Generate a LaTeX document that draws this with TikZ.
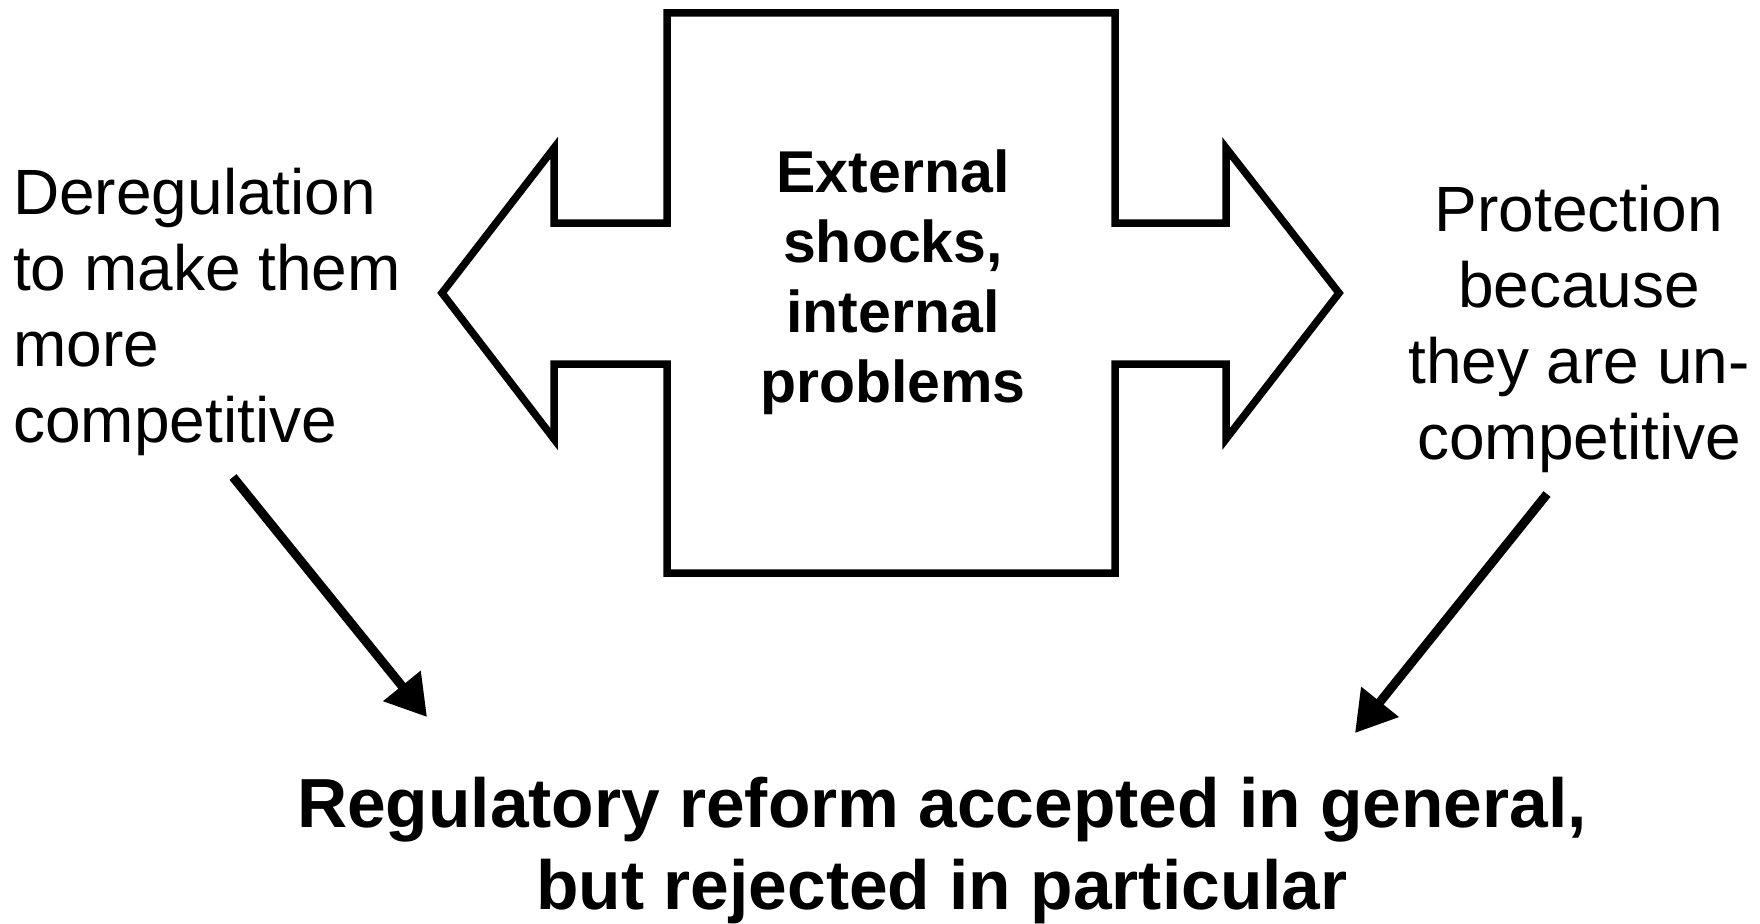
\documentclass[tikz,border=0pt]{standalone}
\usepackage{fontspec}
\setmainfont{Liberation Sans}
\usetikzlibrary{arrows.meta}
\tikzset{
  outline/.style={draw=black, line width=7.5pt, line join=miter, miter limit=10},
  sidetext/.style={inner sep=0pt, font=\fontsize{64}{76}\selectfont},
  midtext/.style={inner sep=0pt, align=center, font=\fontsize{59}{70}\selectfont\bfseries},
  bottomtext/.style={inner sep=0pt, align=center, font=\fontsize{69.5}{82}\selectfont\bfseries},
  flowarrow/.style={line width=9pt, -{Triangle[length=40pt,width=46pt]}}
}
\begin{document}
\begin{tikzpicture}[x=1pt,y=-1pt]
\useasboundingbox[fill=white] (0,0) rectangle (1760,923);
% double arrow shape
\draw[outline] (667,13) -- (1115,13) -- (1115,223) -- (1226,223) -- (1226,148)
  -- (1339,293) -- (1226,439) -- (1226,364) -- (1115,364) -- (1115,573)
  -- (667,573) -- (667,364) -- (554,364) -- (554,439) -- (442,293)
  -- (554,148) -- (554,223) -- (667,223) -- cycle;
\node[midtext, anchor=north] (center) at (893,150) {External\\shocks,\\internal\\problems};
\node[sidetext, align=left, anchor=north west] (left) at (13,168) {Deregulation\\to make them\\more\\competitive};
\node[sidetext, align=center, anchor=north] (right) at (1579,185) {Protection\\because\\they are un-\\competitive};
\node[bottomtext, anchor=north] (bottom) at (942,777) {Regulatory reform accepted in general,\\but rejected in particular};
\coordinate (ls) at (233,477);
\coordinate (le) at (427,717);
\coordinate (rs) at (1547,494);
\coordinate (re) at (1355,733);
\draw[flowarrow] (ls) -- (le);
\draw[flowarrow] (rs) -- (re);
\end{tikzpicture}
\end{document}
